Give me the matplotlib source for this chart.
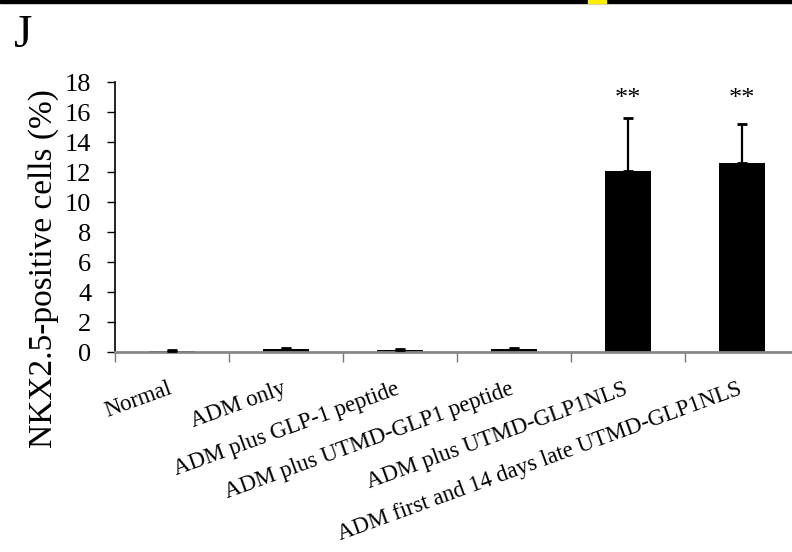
import matplotlib
matplotlib.use("Agg")
import matplotlib.pyplot as plt
from matplotlib.patches import Rectangle
import numpy as np

plt.rcParams['font.family'] = ['Liberation Serif', 'DejaVu Serif']

# groups and values
groups = ["Normal", "ADM only", "ADM plus GLP-1 peptide",
          "ADM plus UTMD-GLP1 peptide", "ADM plus UTMD-GLP1NLS",
          "ADM first and 14 days late UTMD-GLP1NLS"]
means = [0.1, 0.2, 0.15, 0.2, 12.1, 12.6]
errs = [0.05, 0.05, 0.05, 0.1, 3.5, 2.6]
marks = ["", "", "", "", "**", "**"]
yticks = [0, 2, 4, 6, 8, 10, 12, 14, 16, 18]

fig = plt.figure(figsize=(7.92, 5.52), dpi=100)
ax = fig.add_axes([0.1452, 0.3623, 0.8548, 0.4891])

x = np.arange(len(groups))
ax.bar(x, means, width=0.4, color='black', zorder=2)
ax.errorbar(x, means, yerr=[np.zeros(len(errs)), errs], fmt='none',
            ecolor='black', elinewidth=1.6, capsize=3.5, capthick=2, zorder=3)

for xi, s in zip(x, marks):
    if s:
        ax.text(xi, 16.9, s, ha='center', va='center', fontsize=19)

ax.set_xlim(-0.5, 5.44)
ax.set_ylim(0, 18)
ax.set_yticks(yticks)
ax.set_yticklabels([str(v) for v in yticks], fontsize=19)
ax.tick_params(axis='y', direction='out', length=6, width=1, pad=11)

ax.set_xticks(x - 0.04)
ax.set_xticklabels(groups, rotation=20, ha='right', rotation_mode='anchor',
                   fontsize=16.5)
ax.tick_params(axis='x', which='major', length=0, pad=19)
ax.set_xticks(np.arange(-0.5, 5.5, 1.0), minor=True)
ax.tick_params(axis='x', which='minor', direction='out', length=7,
               width=1, color='#777777')

for side in ['top', 'right']:
    ax.spines[side].set_visible(False)
ax.spines['left'].set_linewidth(1.2)
ax.spines['bottom'].set_color('#888888')
ax.spines['bottom'].set_linewidth(2)

ax.set_ylabel("NKX2.5-positive cells (%)", fontsize=24)
ax.yaxis.set_label_coords(-0.083, 0.31)

fig.text(0.018, 0.915, "J", fontsize=34, va='baseline', ha='left')

# scan border at the top of the panel
fig.patches.append(Rectangle((0, 0.994), 1, 0.006, transform=fig.transFigure,
                             color='black', zorder=5))
fig.patches.append(Rectangle((0.742, 0.994), 0.023, 0.006,
                             transform=fig.transFigure, color='#ffee00', zorder=6))

fig.savefig("out.png", dpi=100)
